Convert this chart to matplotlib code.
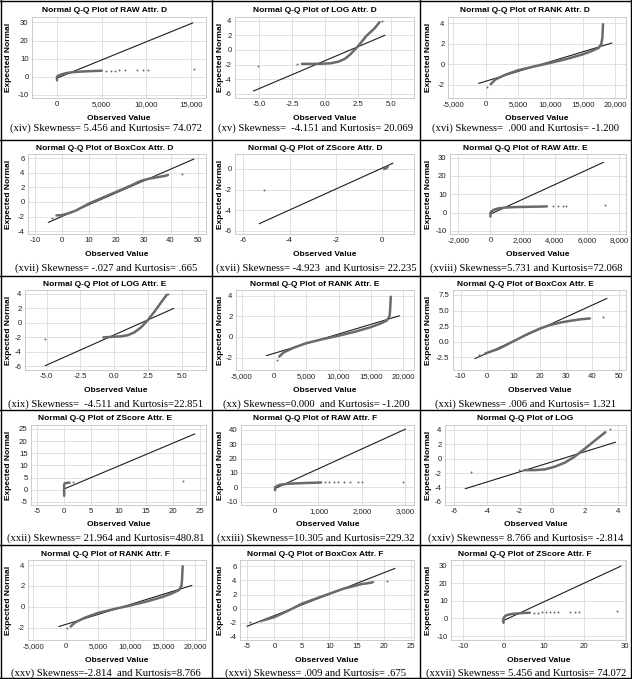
import matplotlib
matplotlib.use("Agg")
import matplotlib.pyplot as plt

# ---- data (15 panels, row by row) ----
titles = [
    "Normal Q-Q Plot of RAW Attr. D", "Normal Q-Q Plot of LOG Attr. D", "Normal Q-Q Plot of RANK Attr. D",
    "Normal Q-Q Plot of BoxCox Attr. D", "Normal Q-Q Plot of ZScore Attr. D", "Normal Q-Q Plot of RAW Attr. E",
    "Normal Q-Q Plot of LOG Attr. E", "Normal Q-Q Plot of RANK Attr. E", "Normal Q-Q Plot of BoxCox Attr. E",
    "Normal Q-Q Plot of ZScore Attr. E", "Normal Q-Q Plot of RAW Attr. F", "Normal Q-Q Plot of LOG",
    "Normal Q-Q Plot of RANK Attr. F", "Normal Q-Q Plot of BoxCox Attr. F", "Normal Q-Q Plot of ZScore Attr. F",
]
captions = [
    "(xiv) Skewness= 5.456 and Kurtosis= 74.072",
    "(xv) Skewness=  -4.151 and Kurtosis= 20.069",
    "(xvi) Skewness=  .000 and Kurtosis= -1.200",
    "(xvii) Skewness= -.027 and Kurtosis= .665",
    "(xvii) Skewness= -4.923  and Kurtosis= 22.235",
    "(xviii) Skewness=5.731 and Kurtosis=72.068",
    "(xix) Skewness=  -4.511 and Kurtosis=22.851",
    "(xx) Skewness=0.000  and Kurtosis= -1.200",
    "(xxi) Skewness= .006 and Kurtosis= 1.321",
    "(xxii) Skewness= 21.964 and Kurtosis=480.81",
    "(xxiii) Skewness=10.305 and Kurtosis=229.32",
    "(xxiv) Skewness= 8.766 and Kurtosis= -2.814",
    "(xxv) Skewness=-2.814  and Kurtosis=8.766",
    "(xxvi) Skewness= .009 and Kurtosis= .675",
    "(xxvii) Skewness= 5.456 and Kurtosis= 74.072",
]

rank_ticks = [-5000, 0, 5000, 10000, 15000, 20000]
rank_labels = ["-5,000", "0", "5,000", "10,000", "15,000", "20,000"]
log_ticks = [-5, -2.5, 0, 2.5, 5]
log_labels = ["-5.0", "-2.5", "0.0", "2.5", "5.0"]

x_lims = [(-2800, 16700), (-6.8, 6.7), (-5800, 21700), (-12.5, 53), (-6.36, 1.39),
          (-2510, 8410), (-6.6, 6.8), (-5900, 21700), (-12.9, 52.8), (-6.1, 26.1),
          (-785, 3200), (-6.56, 4.5), (-5800, 21700), (-6.3, 25.5), (-13, 30.3)]
x_ticks = [[0, 5000, 10000, 15000], log_ticks, rank_ticks, [-10, 0, 10, 20, 30, 40, 50], [-6, -4, -2, 0],
           [-2000, 0, 2000, 4000, 6000, 8000], log_ticks, rank_ticks, [-10, 0, 10, 20, 30, 40, 50],
           [-5, 0, 5, 10, 15, 20, 25],
           [0, 1000, 2000, 3000], [-6, -4, -2, 0, 2, 4], rank_ticks, [-5, 0, 5, 10, 15, 20, 25],
           [-10, 0, 10, 20, 30]]
x_labels = [["0", "5,000", "10,000", "15,000"], log_labels, rank_labels, None, None,
            ["-2,000", "0", "2,000", "4,000", "6,000", "8,000"], log_labels, rank_labels, None, None,
            ["0", "1,000", "2,000", "3,000"], None, rank_labels, None, None]

y_lims = [(-11.8, 33), (-6.56, 4.5), (-3.3, 4.6), (-4.4, 6.6), (-6.3, 1.45),
          (-11.7, 32), (-6.5, 4.55), (-3.2, 4.55), (-4.5, 8.3), (-6.3, 26.6),
          (-12.3, 43.4), (-6.43, 4.65), (-3.2, 4.5), (-4.45, 6.9), (-12.2, 33)]
y_ticks = [[-10, 0, 10, 20, 30], [-6, -4, -2, 0, 2, 4], [-2, 0, 2, 4], [-4, -2, 0, 2, 4, 6], [-6, -4, -2, 0],
           [-10, 0, 10, 20, 30], [-6, -4, -2, 0, 2, 4], [-2, 0, 2, 4], [-2.5, 0, 2.5, 5, 7.5],
           [-5, 0, 5, 10, 15, 20, 25],
           [-10, 0, 10, 20, 30, 40], [-6, -4, -2, 0, 2, 4], [-2, 0, 2, 4], [-4, -2, 0, 2, 4, 6],
           [-10, 0, 10, 20, 30]]
y_labels = [None] * 8 + [["-2.5", "0.0", "2.5", "5.0", "7.5"]] + [None] * 6

# reference (expected) lines
line_x = [[0, 15200], [-5.4, 4.5], [-1040, 19500], [-5, 48.5], [-5.31, 0.47],
          [0, 7000], [-5.1, 4.4], [-1140, 19430], [-4.5, 45.5], [0, 24],
          [0, 3000], [-5.32, 3.85], [-1000, 19500], [-5, 22], [-0.3, 29]]
line_y = [[-0.8, 29.7], [-5.6, 2.0], [-1.87, 2.06], [-2.8, 5.9], [-5.3, 0.55],
          [-0.8, 27.4], [-5.9, 2.0], [-1.8, 2.05], [-2.67, 6.94], [0.3, 22.9],
          [-0.8, 40.5], [-4.17, 2.26], [-1.9, 2.05], [-2.5, 5.7], [-1.5, 29.5]]

# dense part of the observed points
curve_x = [
    [0, 0, 0, 100, 300, 600, 1000, 1500, 2000, 3000, 4000, 5000],
    [-1.75, -1.0, -0.3, 0.4, 1.0, 1.5, 1.9, 2.5, 3.1, 3.75, 4.1],
    [800, 1500, 3000, 5000, 7500, 10000, 12500, 15000, 16500, 17500, 17900, 18050, 18100, 18150],
    [-2, 0, 2, 5, 10, 15, 20, 25, 29, 32, 35, 38, 39],
    [0.1, 0.15, 0.2, 0.25],
    [0, 0, 0, 50, 200, 500, 1000, 1500, 2000, 2600, 3200, 3500],
    [-0.8, 0, 0.5, 1.0, 1.5, 2.0, 2.5, 3.0, 3.5, 3.9],
    [800, 1500, 3000, 5000, 7500, 10000, 12500, 15000, 16500, 17500, 17900, 18000, 18050, 18100],
    [-0.6, 4.5, 9.6, 14.7, 19.9, 24, 28, 31.4, 35.3, 39.1],
    [0, 0, 0, 0.1, 0.5, 1.0],
    [0, 0, 0, 50, 110, 300, 680, 920, 1060],
    [-1.7, -1.1, -0.47, 0.14, 0.76, 1.38, 2.0, 2.6, 3.24],
    [800, 1500, 3000, 5000, 7500, 10000, 12500, 15000, 16500, 17500, 17900, 18000, 18050, 18100],
    [-2, 0, 2.5, 5, 7.5, 10, 12.5, 14, 15, 16, 17, 18],
    [0, 0, 0, 0.2, 0.5, 1, 2, 3.5, 5, 6.5],
]
curve_y = [
    [-2, -1, 0, 0.4, 0.9, 1.4, 1.9, 2.3, 2.6, 2.9, 3.1, 3.3],
    [-1.9, -1.9, -1.88, -1.82, -1.6, -1.2, -0.6, 0.55, 1.9, 3.0, 3.8],
    [-1.95, -1.5, -1.05, -0.6, -0.22, 0.12, 0.5, 0.95, 1.3, 1.6, 2.0, 2.6, 3.2, 3.9],
    [-1.85, -1.8, -1.6, -1.2, -0.2, 0.6, 1.4, 2.2, 2.9, 3.2, 3.4, 3.6, 3.7],
    [0.0, 0.05, 0.1, 0.2],
    [-2.2, -1, 0, 0.5, 1.5, 2.3, 2.8, 3.0, 3.1, 3.2, 3.3, 3.4],
    [-2.0, -1.9, -1.85, -1.7, -1.3, -0.6, 0.4, 1.6, 2.9, 3.9],
    [-1.9, -1.5, -1.05, -0.6, -0.22, 0.12, 0.5, 0.95, 1.3, 1.6, 2.0, 2.6, 3.3, 3.9],
    [-1.85, -1.1, 0.0, 1.1, 2.1, 2.7, 3.1, 3.35, 3.6, 3.75],
    [-2.5, 0, 2.0, 2.6, 2.8, 2.9],
    [-2, -1, 0, 1.0, 1.8, 2.5, 3.0, 3.2, 3.4],
    [-1.6, -1.6, -1.5, -1.13, -0.57, 0.3, 1.4, 2.5, 3.65],
    [-1.9, -1.5, -1.05, -0.6, -0.22, 0.12, 0.5, 0.95, 1.3, 1.6, 2.0, 2.6, 3.3, 3.9],
    [-1.65, -1.2, -0.3, 0.7, 1.4, 2.1, 2.8, 3.1, 3.3, 3.5, 3.6, 3.75],
    [-2.5, -1, 0, 0.8, 1.5, 2.0, 2.5, 2.8, 3.1, 3.2],
]

# isolated points
dot_x = [
    [5500, 6000, 6500, 7000, 7600, 9000, 9600, 10200, 15300],
    [-5.1, -2.1, 4.3],
    [260],
    [-3.5, 44],
    [-5.1],
    [3900, 4200, 4500, 4700, 7100],
    [-5.1, 3.95],
    [400],
    [-3.2, 44.2],
    [1.7, 21.9],
    [1150, 1250, 1350, 1440, 1580, 1720, 1900, 2000, 2950],
    [-5.0, -2.06, 3.55],
    [280],
    [-4.5, -2.5, 20.5],
    [7.5, 8.5, 9.5, 10.5, 11.5, 12.5, 13.5, 16.4, 17.6, 18.6, 28.1],
]
dot_y = [
    [3.3, 3.4, 3.4, 3.5, 3.5, 3.6, 3.6, 3.7, 4.0],
    [-2.2, -1.9, 4.0],
    [-2.25],
    [-2.2, 3.9],
    [-2.0],
    [3.4, 3.5, 3.5, 3.6, 4.0],
    [-2.2, 4.0],
    [-2.2],
    [-2.1, 3.9],
    [3.0, 3.5],
    [3.4, 3.4, 3.4, 3.5, 3.5, 3.5, 3.5, 3.6, 3.8],
    [-1.9, -1.6, 4.1],
    [-2.05],
    [-1.9, -1.7, 3.9],
    [3.3, 3.3, 3.4, 3.4, 3.4, 3.5, 3.5, 3.5, 3.6, 3.6, 4.0],
]

# ---- layout (pixels) ----
W, H = 632, 679
col_x = [0, 212, 420, 632]
row_y = [0, 140, 276, 410, 545, 679]
row_top = [17, 14, 14, 15, 15]
row_bot = [98, 94, 94, 95, 95]
left_off = [32, 23, 28, 28, 23, 30, 25, 24, 33, 31, 29, 25, 28, 28, 31]

plt.rcParams["font.family"] = ["Liberation Sans", "DejaVu Sans"]
fig = plt.figure(figsize=(W / 100, H / 100), dpi=100)

bg = fig.add_axes([0, 0, 1, 1])
bg.set_xlim(0, W)
bg.set_ylim(H, 0)
bg.axis("off")

for i in range(15):
    r, c = divmod(i, 3)
    L, R, T = col_x[c], col_x[c + 1], row_y[r]
    ax_l, ax_r = L + left_off[i], R - 6
    ax_t, ax_b = T + row_top[r], T + row_bot[r]
    ax = fig.add_axes([ax_l / W, 1 - ax_b / H, (ax_r - ax_l) / W, (ax_b - ax_t) / H])

    ax.plot(line_x[i], line_y[i], color="#1e1e1e", lw=0.8, zorder=3)
    ax.plot(curve_x[i], curve_y[i], color="#6a6a6a", lw=1.8, solid_capstyle="round", zorder=4)
    ax.plot(dot_x[i], dot_y[i], "o", ms=1.4, color="#6a6a6a", mew=0, zorder=4)

    ax.set_xlim(x_lims[i])
    ax.set_ylim(y_lims[i])
    ax.set_xticks(x_ticks[i])
    ax.set_yticks(y_ticks[i])
    if x_labels[i]:
        ax.set_xticklabels(x_labels[i])
    else:
        ax.set_xticklabels([f"{t:g}" for t in x_ticks[i]])
    if y_labels[i]:
        ax.set_yticklabels(y_labels[i])
    else:
        ax.set_yticklabels([f"{t:g}" for t in y_ticks[i]])
    ax.tick_params(length=0, pad=2.5, labelsize=5.6, colors="#222222")
    ax.grid(True, color="#dcdcdc", lw=0.6, zorder=0)
    ax.set_axisbelow(True)
    for s in ax.spines.values():
        s.set_color("#c4c4c4")
        s.set_linewidth(0.6)

    bg.text((L + R) / 2 - 1, T + row_top[r] - 6, titles[i], ha="center", va="center",
            fontsize=6, fontweight="bold")
    bg.text((ax_l + ax_r) / 2, ax_b + 20, "Observed Value", ha="center", va="center",
            fontsize=6, fontweight="bold")
    bg.text(L + 9, (ax_t + ax_b) / 2, "Expected Normal", ha="center", va="center",
            rotation=90, fontsize=6, fontweight="bold")
    bg.text((L + R) / 2, T + 128.5, captions[i], ha="center", va="center",
            fontsize=7.7, family=["Liberation Serif", "DejaVu Serif"])

# cell borders
for x in [0.7, 212, 420, 631.3]:
    bg.plot([x, x], [0, H], color="black", lw=1.0)
for y in [0.7, 140, 276, 410, 545, 678.3]:
    bg.plot([0, W], [y, y], color="black", lw=1.0)

fig.savefig("out.png", dpi=100)
